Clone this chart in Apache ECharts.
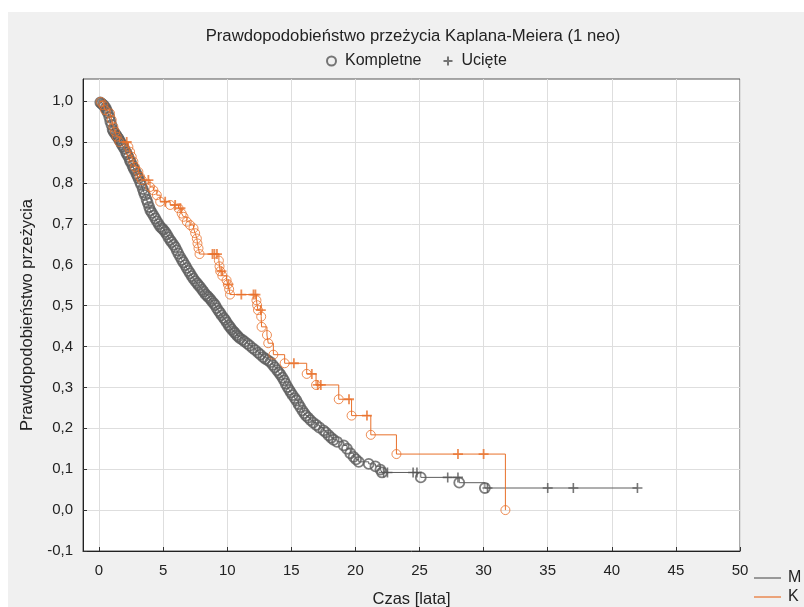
<!DOCTYPE html>
<html><head><meta charset="utf-8">
<script src="https://cdn.jsdelivr.net/npm/echarts@6/dist/echarts.min.js"></script>
<style>
html,body{margin:0;padding:0;background:#fff;}
#panel{position:absolute;left:8px;top:12px;width:796px;height:595px;background:#f0f0f0;}
#main{position:absolute;left:0;top:0;width:804px;height:607px;}
</style></head><body><div id="panel"></div><div id="main"></div>
<script>
// ---- data ----
const xTicks = [0, 5, 10, 15, 20, 25, 30, 35, 40, 45, 50];
const yTicks = [-0.1, 0, 0.1, 0.2, 0.3, 0.4, 0.5, 0.6, 0.7, 0.8, 0.9, 1.0];
const chartTitle = 'Prawdopodobieństwo przeżycia Kaplana-Meiera (1 neo)';
const groups = ['M', 'K'];
const markNames = ['Kompletne', 'Ucięte'];

// M: complete events [time, survival after event]
const mEvents = [
[0.10,0.997],[0.19,0.994],[0.31,0.991],[0.40,0.988],[0.52,0.983],[0.60,0.977],[0.69,0.971],[0.80,0.961],[0.88,0.951],[0.97,0.942],
[1.06,0.931],[1.13,0.926],[1.24,0.921],[1.33,0.917],[1.41,0.913],[1.52,0.909],[1.60,0.904],[1.71,0.898],[1.79,0.893],[1.90,0.888],
[1.98,0.883],[2.11,0.875],[2.19,0.870],[2.30,0.863],[2.41,0.855],[2.49,0.850],[2.61,0.842],[2.70,0.836],[2.79,0.831],[2.91,0.823],
[3.00,0.817],[3.08,0.811],[3.20,0.802],[3.29,0.795],[3.41,0.785],[3.50,0.777],[3.59,0.770],[3.71,0.759],[3.80,0.751],[3.91,0.741],
[4.00,0.733],[4.12,0.727],[4.26,0.720],[4.39,0.713],[4.52,0.706],[4.66,0.699],[4.77,0.693],[4.91,0.689],[5.03,0.685],[5.16,0.680],
[5.29,0.674],[5.41,0.667],[5.56,0.660],[5.67,0.655],[5.81,0.649],[5.94,0.643],[6.07,0.635],[6.19,0.627],[6.33,0.619],[6.46,0.612],
[6.58,0.606],[6.72,0.599],[6.84,0.592],[6.98,0.585],[7.10,0.579],[7.24,0.572],[7.36,0.566],[7.50,0.560],[7.64,0.555],[7.76,0.550],
[7.90,0.545],[8.04,0.539],[8.16,0.534],[8.30,0.528],[8.43,0.524],[8.55,0.520],[8.68,0.516],[8.79,0.511],[8.94,0.506],[9.06,0.501],
[9.18,0.494],[9.33,0.487],[9.45,0.482],[9.57,0.476],[9.72,0.470],[9.84,0.465],[9.96,0.459],[10.11,0.452],[10.23,0.447],[10.35,0.442],
[10.49,0.437],[10.60,0.433],[10.74,0.428],[10.86,0.424],[11.00,0.420],[11.19,0.416],[11.36,0.412],[11.57,0.407],[11.76,0.402],[11.99,0.396],
[12.19,0.391],[12.41,0.385],[12.59,0.380],[12.81,0.374],[12.97,0.370],[13.18,0.366],[13.36,0.362],[13.55,0.355],[13.71,0.349],[13.90,0.342],
[14.04,0.336],[14.16,0.331],[14.31,0.324],[14.44,0.317],[14.56,0.309],[14.70,0.301],[14.84,0.294],[14.96,0.288],[15.10,0.281],[15.26,0.274],
[15.40,0.268],[15.56,0.259],[15.69,0.252],[15.86,0.244],[16.01,0.237],[16.14,0.231],[16.31,0.226],[16.49,0.220],[16.71,0.214],[16.95,0.208],
[17.19,0.202],[17.51,0.195],[17.69,0.190],[17.91,0.183],[18.11,0.177],[18.30,0.172],[18.57,0.167],[19.09,0.158],[19.34,0.150],[19.60,0.139],
[19.86,0.130],[20.05,0.124],[20.26,0.118],[21.04,0.113],[21.56,0.107],[21.95,0.099],[22.08,0.092],[25.10,0.080],[28.10,0.067],[30.10,0.054]
];
// M: censored times
const mCensored = [22.2, 22.5, 24.5, 24.8, 27.2, 28.0, 30.3, 35.0, 37.0, 42.0];

// K: complete events [time, survival after event]
const kEvents = [
[0.13,0.998],[0.34,0.990],[0.47,0.978],[0.86,0.970],[0.99,0.954],[1.12,0.937],[1.25,0.925],[1.38,0.913],[1.59,0.900],[2.29,0.888],
[2.42,0.876],[2.55,0.864],[2.68,0.852],[2.81,0.839],[3.07,0.827],[3.20,0.815],[3.34,0.807],[3.98,0.790],[4.24,0.782],[4.51,0.770],
[4.77,0.754],[5.55,0.746],[6.20,0.738],[6.45,0.725],[6.59,0.717],[6.85,0.705],[7.10,0.697],[7.37,0.689],[7.50,0.677],[7.63,0.664],
[7.68,0.652],[7.76,0.640],[7.84,0.626],[9.35,0.610],[9.40,0.596],[9.45,0.584],[9.62,0.573],[9.95,0.562],[10.05,0.552],[10.15,0.540],
[10.22,0.527],[12.28,0.513],[12.33,0.501],[12.40,0.489],[12.65,0.473],[12.68,0.448],[13.10,0.428],[13.20,0.408],[13.60,0.380],[14.48,0.359],
[16.20,0.333],[16.93,0.306],[18.70,0.271],[19.70,0.231],[21.20,0.184],[23.20,0.137],[31.70,0.000]
];
// K: censored times
const kCensored = [2.16, 3.85, 5.16, 5.94, 6.35, 8.85, 9.0, 9.2, 9.55, 10.1, 11.1, 12.05, 12.2, 12.62, 15.2, 16.6, 17.06, 17.3, 19.5, 20.9, 28.0, 30.0];

// ---- helpers ----
function survAt(events, t) {
  let s = 1;
  for (const e of events) { if (e[0] <= t) s = e[1]; else break; }
  return s;
}
function stepLine(events, cens) {
  const pts = [[0, 1]].concat(events);
  const lastE = events[events.length - 1];
  const lastC = Math.max.apply(null, cens);
  if (lastC > lastE[0]) pts.push([lastC, lastE[1]]);
  return pts;
}
function censPts(events, cens) { return cens.map(t => [t, survAt(events, t)]); }

const FONT = '"Liberation Sans", Arial, sans-serif';
const GRAY = '#5e5e5e';
const ORANGE = '#e8702a';
const plusPath = 'path://M5,0L5,10M0,5L10,5';
const legText = {fontSize: 16, color: '#222', fontFamily: FONT};

const chart = echarts.init(document.getElementById('main'), null, {renderer: 'canvas'});
chart.setOption({
  animation: false,
  backgroundColor: 'transparent',
  textStyle: {fontFamily: FONT},
  title: {
    text: chartTitle, left: 408, top: 23, textAlign: 'center',
    textStyle: {fontSize: 16.7, fontWeight: 'normal', color: '#222', fontFamily: FONT}
  },
  legend: [
    {
      data: markNames, left: 321, top: 48, itemWidth: 9, itemHeight: 9, itemGap: 21,
      selectedMode: false,
      textStyle: Object.assign({padding: [0, 0, 0, 4]}, legText)
    },
    {
      data: [groups[0]], left: 749, top: 565, icon: 'rect',
      itemWidth: 27, itemHeight: 1.2, selectedMode: false,
      textStyle: Object.assign({padding: [0, 0, 0, 2]}, legText)
    },
    {
      data: [groups[1]], left: 749, top: 584, icon: 'rect',
      itemWidth: 27, itemHeight: 1.2, selectedMode: false,
      textStyle: Object.assign({padding: [0, 0, 0, 2]}, legText)
    }
  ],
  grid: {left: 83, top: 79, right: 64, bottom: 56, show: true, backgroundColor: '#fff',
    borderColor: '#555', borderWidth: 1, outerBoundsMode: 'none', containLabel: false},
  xAxis: {
    type: 'value', min: -1.25, max: 50,
    name: 'Czas [lata]', nameLocation: 'middle', nameGap: 40,
    nameTextStyle: {fontSize: 16.5, color: '#222', fontFamily: FONT},
    axisLine: {show: true, onZero: false, lineStyle: {color: '#222', width: 1}},
    axisTick: {show: true, inside: true, length: 4, customValues: xTicks, lineStyle: {color: '#333'}},
    axisLabel: {customValues: xTicks, fontSize: 15, color: '#222', margin: 12, fontFamily: FONT},
    splitLine: {show: true, lineStyle: {color: '#dedede', width: 1}}
  },
  yAxis: {
    type: 'value', min: -0.1, max: 1.054,
    name: 'Prawdopodobieństwo przeżycia', nameLocation: 'middle', nameGap: 47,
    nameTextStyle: {fontSize: 16.5, color: '#222', fontFamily: FONT},
    axisLine: {show: true, onZero: false, lineStyle: {color: '#222', width: 1}},
    axisTick: {show: true, inside: true, length: 4, customValues: yTicks, lineStyle: {color: '#333'}},
    axisLabel: {
      customValues: yTicks, fontSize: 15, color: '#222', margin: 10, fontFamily: FONT,
      formatter: v => (Math.round(v * 10) / 10).toFixed(1).replace('.', ',')
    },
    splitLine: {show: true, lineStyle: {color: '#dedede', width: 1}}
  },
  series: [
    {name: 'M', type: 'line', step: 'end', data: stepLine(mEvents, mCensored), symbol: 'none',
      lineStyle: {color: GRAY, width: 1}, itemStyle: {color: GRAY}, z: 2, silent: true},
    {name: 'K', type: 'line', step: 'end', data: stepLine(kEvents, kCensored), symbol: 'none',
      lineStyle: {color: ORANGE, width: 1}, itemStyle: {color: ORANGE}, z: 4, silent: true},
    {name: 'M-kompletne', type: 'scatter', data: mEvents, symbol: 'circle', symbolSize: 10,
      itemStyle: {color: 'transparent', borderColor: GRAY, borderWidth: 1.8}, z: 3, silent: true},
    {name: 'M-ucięte', type: 'scatter', data: censPts(mEvents, mCensored), symbol: plusPath, symbolSize: 10,
      itemStyle: {color: 'transparent', borderColor: '#555', borderWidth: 1.6}, z: 3, silent: true},
    {name: 'K-kompletne', type: 'scatter', data: kEvents, symbol: 'circle', symbolSize: 9,
      itemStyle: {color: 'transparent', borderColor: ORANGE, borderWidth: 1}, z: 5, silent: true},
    {name: 'K-ucięte', type: 'scatter', data: censPts(kEvents, kCensored), symbol: plusPath, symbolSize: 10,
      itemStyle: {color: 'transparent', borderColor: ORANGE, borderWidth: 1.8}, z: 5, silent: true},
    {name: 'Kompletne', type: 'scatter', data: [], symbol: 'circle',
      itemStyle: {color: 'transparent', borderColor: '#555', borderWidth: 1}},
    {name: 'Ucięte', type: 'scatter', data: [], symbol: plusPath,
      itemStyle: {color: 'transparent', borderColor: '#555', borderWidth: 1.2}}
  ]
});
</script></body></html>
